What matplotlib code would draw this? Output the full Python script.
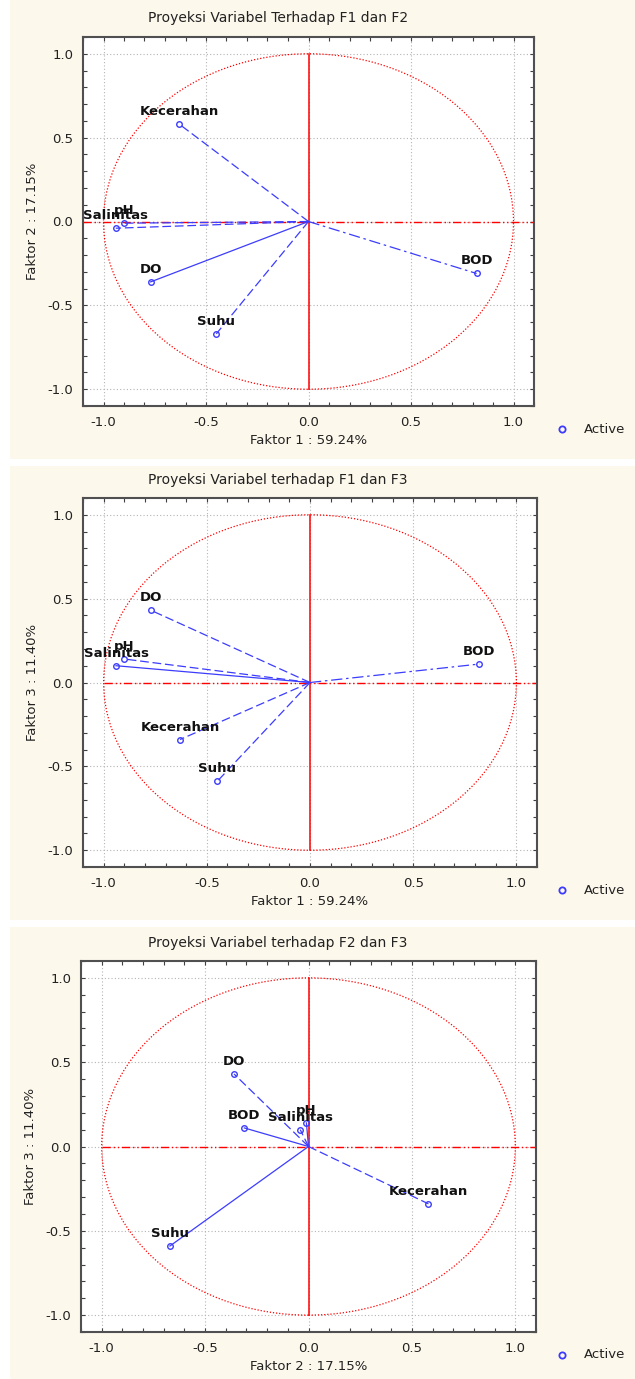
import matplotlib
matplotlib.use('Agg')
import matplotlib.pyplot as plt
from matplotlib.patches import Circle, Rectangle
from matplotlib.lines import Line2D
from matplotlib.ticker import MultipleLocator

# factor loadings
variables = ['Kecerahan', 'pH', 'Salinitas', 'DO', 'Suhu', 'BOD']
f1 = [-0.63, -0.90, -0.94, -0.77, -0.45, 0.82]
f2 = [0.58, -0.01, -0.04, -0.36, -0.67, -0.31]
f3 = [-0.34, 0.14, 0.10, 0.43, -0.59, 0.11]

factor_names = ['Faktor 1 : 59.24%', 'Faktor 2 : 17.15%', 'Faktor 3 : 11.40%']
titles = ['Proyeksi Variabel Terhadap F1 dan F2',
          'Proyeksi Variabel terhadap F1 dan F3',
          'Proyeksi Variabel terhadap F2 dan F3']
tick_vals = [-1.0, -0.5, 0.0, 0.5, 1.0]
tick_labels = ['-1.0', '-0.5', '0.0', '0.5', '1.0']

W, H = 635, 1379
BG = '#fdf8ec'
BLUE = '#3c3cff'

DASH = (0, (7, 3))
DASHDOT = (0, (9, 3, 2, 3))

# per panel: (x data, y data, x name, y name, title, axes box px, panel box px, line styles, hline start, title y)
panels = [
    (f1, f2, 0, 1, 0, (83, 37, 534, 406), (10, 0, 635, 459),
     [DASH, DASH, DASH, '-', DASH, DASHDOT], -1.1, 18),
    (f1, f3, 0, 2, 1, (83, 498, 537, 867), (10, 466, 635, 920),
     [DASH, DASH, '-', DASH, DASH, DASHDOT], -1.0, 480),
    (f2, f3, 1, 2, 2, (81, 961, 536, 1332), (10, 927, 635, 1379),
     [DASH, '-', DASH, DASH, '-', '-'], -1.0, 943),
]


def fx(px):
    return px / W


def fy(py):
    return 1 - py / H


fig = plt.figure(figsize=(W / 100, H / 100), dpi=100)
fig.patch.set_facecolor('white')

for xs, ys, xi, yi, ti, abox, pbox, styles, hstart, title_y in panels:
    # cream panel background
    fig.patches.append(Rectangle((fx(pbox[0]), fy(pbox[3])), fx(pbox[2] - pbox[0]),
                                 (pbox[3] - pbox[1]) / H, transform=fig.transFigure,
                                 facecolor=BG, edgecolor='none', zorder=-10))

    x0, y0, x1, y1 = abox
    ax = fig.add_axes([fx(x0), fy(y1), fx(x1 - x0), (y1 - y0) / H])
    ax.set_facecolor('white')
    ax.set_xlim(-1.1, 1.1)
    ax.set_ylim(-1.1, 1.1)

    ax.set_xticks(tick_vals)
    ax.set_xticklabels(tick_labels)
    ax.set_yticks(tick_vals)
    ax.set_yticklabels(tick_labels)
    ax.xaxis.set_minor_locator(MultipleLocator(0.1))
    ax.yaxis.set_minor_locator(MultipleLocator(0.1))
    ax.tick_params(which='both', direction='in', top=True, right=True,
                   length=3, width=0.8, color='#404040')
    ax.tick_params(which='major', labelsize=9.5, pad=7, labelcolor='#222222')
    for sp in ax.spines.values():
        sp.set_color('#505050')
        sp.set_linewidth(1.5)

    ax.grid(True, which='major', linestyle=(0, (1, 2)), color='#b4b4b4', linewidth=0.8)
    ax.set_axisbelow(True)

    # unit circle and red axes
    ax.add_patch(Circle((0, 0), 1.0, fill=False, edgecolor='red',
                        linestyle=(0, (1, 1.5)), linewidth=0.9))
    ax.plot([0, 0], [-1, 1], color='red', linewidth=1.1)
    ax.plot([hstart, 1.1], [0, 0], color='red', linewidth=1.0,
            linestyle=(0, (6, 2, 1, 2, 1, 2)))

    for name, vx, vy, ls in zip(variables, xs, ys, styles):
        ax.plot([0, vx], [0, vy], color=BLUE, linewidth=0.9, linestyle=ls)
        ax.plot(vx, vy, marker='o', markersize=4, markerfacecolor='none',
                markeredgecolor=BLUE, markeredgewidth=1.0, linestyle='none')
        ax.annotate(name, (vx, vy), xytext=(0, 9), textcoords='offset points',
                    ha='center', va='center', fontsize=9.5, fontweight='bold',
                    color='#111111')

    ax.set_xlabel(factor_names[xi], fontsize=9.5, labelpad=4, color='#222222')
    ax.set_ylabel(factor_names[yi], fontsize=9.5, labelpad=6, color='#222222')

    fig.text(fx(278), fy(title_y), titles[ti], ha='center', va='center',
             fontsize=10, color='#222222')

    # "Active" legend entry
    leg_y = fy(y1 + 23)
    fig.add_artist(Line2D([fx(562)], [leg_y], transform=fig.transFigure, marker='o',
                          markersize=4.5, markerfacecolor='none', markeredgecolor=BLUE,
                          markeredgewidth=1.3, linestyle='none'))
    fig.text(fx(584), leg_y, 'Active', ha='left', va='center', fontsize=9.5,
             color='#222222')

fig.savefig('out.png', dpi=100, facecolor='white')
